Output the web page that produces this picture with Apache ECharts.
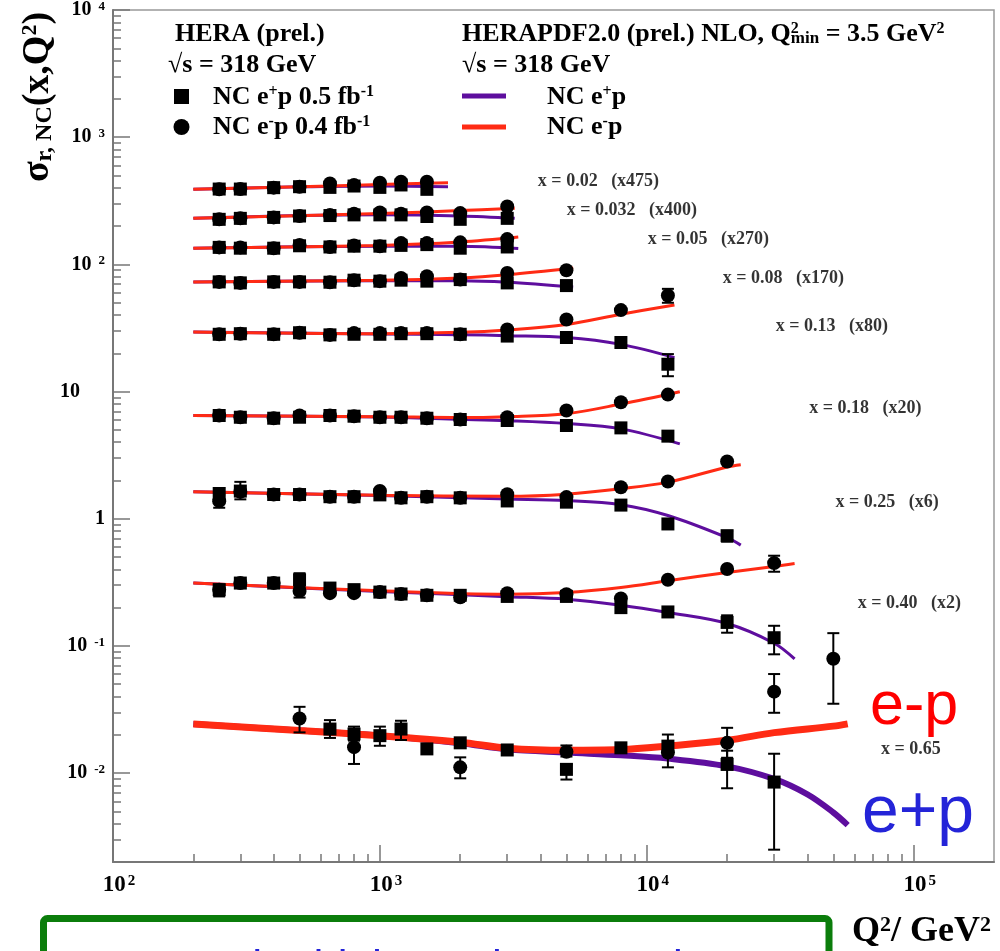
<!DOCTYPE html>
<html>
<head>
    <meta charset="utf-8">
    <title>HERA NC reduced cross sections at high Q2</title>
    <script type="text/javascript" src="https://cdn.jsdelivr.net/npm/echarts@6/dist/echarts.min.js"></script>
    <style>html, body { margin: 0; padding: 0; background: #fff; }</style>
</head>
<body>
    <div id="main" style="width:1000px; height:951px;"></div>
    <script type="text/javascript">

    var SERIF = '"Liberation Serif", "Times New Roman", serif';
    var SANS = '"Liberation Sans", Arial, sans-serif';
    var PURPLE = '#5e0e9e';
    var RED = '#ff2b14';

    // bins (label text + where the label sits, in Q2 / sigma units)
    var binNames = ['x = 0.02   (x475)', 'x = 0.032   (x400)', 'x = 0.05   (x270)', 'x = 0.08   (x170)',
        'x = 0.13   (x80)', 'x = 0.18   (x20)', 'x = 0.25   (x6)', 'x = 0.40   (x2)', 'x = 0.65'];
    var binTags = [[3908, 450], [5012, 266], [10090, 158], [19260, 77.3], [30400, 32.8],
        [40600, 7.39], [51000, 1.342], [61700, 0.215], [75500, 0.0155]];

    // NC e+p data (squares): [Q2, sigma] or [Q2, sigma, low, high] when the error bar shows
    var ePlusPts = [
        [250, 391], [300, 391], [400, 401], [500, 408], [650, 403], [800, 413], [1000, 403], [1200, 421], [1500, 389],
        [250, 226], [300, 230], [400, 234], [500, 240], [650, 242], [800, 245], [1000, 245], [1200, 245], [1500, 238], [2000, 226], [3000, 230],
        [250, 136], [300, 134], [400, 134], [500, 140], [650, 137], [800, 139], [1000, 139], [1200, 141], [1500, 143], [2000, 134], [3000, 137],
        [250, 72.8], [300, 71.5], [400, 72.8], [500, 72.8], [650, 72.4], [800, 75.1], [1000, 73.8], [1200, 75.1], [1500, 73.8], [2000, 75.9], [3000, 71.5], [5000, 68.1],
        [250, 28.2], [300, 28.5], [400, 28.2], [500, 29.0], [650, 27.9], [800, 28.2], [1000, 28.2], [1200, 28.5], [1500, 28.5], [2000, 28.2], [3000, 27.3], [5000, 26.6], [8000, 24.3], [12000, 16.4, 13.2, 19.7],
        [250, 6.48], [300, 6.28], [400, 6.17], [500, 6.28], [650, 6.48], [800, 6.40], [1000, 6.28], [1200, 6.28], [1500, 6.17], [2000, 6.03], [3000, 5.92], [5000, 5.41], [8000, 5.18], [12000, 4.46],
        [250, 1.58], [300, 1.65, 1.42, 1.95], [400, 1.55], [500, 1.55], [650, 1.49], [800, 1.49], [1000, 1.54], [1200, 1.46], [1500, 1.49], [2000, 1.46], [3000, 1.38], [5000, 1.35], [8000, 1.28], [12000, 0.91], [20000, 0.736, 0.66, 0.80],
        [250, 0.277, 0.245, 0.303], [300, 0.312], [400, 0.312], [500, 0.331, 0.29, 0.373], [650, 0.285], [800, 0.277], [1000, 0.265], [1200, 0.256], [1500, 0.250], [2000, 0.250], [3000, 0.245], [5000, 0.245], [8000, 0.200], [12000, 0.185], [20000, 0.153, 0.127, 0.174], [30000, 0.116, 0.0859, 0.144],
        [650, 0.0222, 0.0189, 0.0261], [800, 0.0203, 0.0180, 0.0232], [1000, 0.0197, 0.0164, 0.0232], [1200, 0.0222, 0.0182, 0.0258], [1500, 0.0155], [2000, 0.0173], [3000, 0.0152], [5000, 0.0107, 0.0089, 0.0117], [8000, 0.0158], [12000, 0.0163, 0.0111, 0.0201], [20000, 0.0117, 0.0076, 0.0150], [30000, 0.0085, 0.0025, 0.0142]
    ];

    // NC e-p data (circles)
    var eMinusPts = [
        [250, 389], [300, 391], [400, 401], [500, 408], [650, 433], [800, 420], [1000, 439], [1200, 447], [1500, 447],
        [250, 226], [300, 230], [400, 234], [500, 240], [650, 244], [800, 250], [1000, 256], [1200, 250], [1500, 256], [2000, 253], [3000, 285],
        [250, 136], [300, 136], [400, 134], [500, 142], [650, 137], [800, 141], [1000, 139], [1200, 147], [1500, 147], [2000, 149], [3000, 158],
        [250, 72.8], [300, 71.5], [400, 72.8], [500, 72.8], [650, 72.4], [800, 75.1], [1000, 73.8], [1200, 78.3], [1500, 80.8], [2000, 75.9], [3000, 85.7], [5000, 89.9],
        [250, 28.2], [300, 28.5], [400, 28.2], [500, 29.0], [650, 27.9], [800, 28.8], [1000, 28.8], [1200, 28.8], [1500, 28.8], [2000, 28.2], [3000, 30.8], [5000, 36.9], [8000, 43.7], [12000, 56.9, 49.9, 64.2],
        [250, 6.48], [300, 6.28], [400, 6.17], [500, 6.48], [650, 6.48], [800, 6.40], [1000, 6.28], [1200, 6.28], [1500, 6.17], [2000, 6.03], [3000, 6.28], [5000, 7.10], [8000, 8.23], [12000, 9.46],
        [250, 1.375, 1.22, 1.55], [300, 1.63], [400, 1.55], [500, 1.55], [650, 1.49], [800, 1.49], [1000, 1.65], [1200, 1.46], [1500, 1.49], [2000, 1.46], [3000, 1.56], [5000, 1.48], [8000, 1.77], [12000, 1.96], [20000, 2.82],
        [250, 0.277], [300, 0.312], [400, 0.312], [500, 0.27, 0.24, 0.30], [650, 0.260], [800, 0.260], [1000, 0.265], [1200, 0.256], [1500, 0.250], [2000, 0.241], [3000, 0.260], [5000, 0.255], [8000, 0.236], [12000, 0.331], [20000, 0.402], [30000, 0.448, 0.383, 0.512],
        [500, 0.0269, 0.0209, 0.0332], [800, 0.0160, 0.0118, 0.0190], [2000, 0.0111, 0.0091, 0.0133], [5000, 0.0147, 0.0135, 0.0165], [12000, 0.0145], [20000, 0.0173, 0.0132, 0.0227], [30000, 0.0437, 0.0298, 0.0601], [50000, 0.0793, 0.0351, 0.126]
    ];

    // HERAPDF2.0 NLO curves, one list per bin
    var fitPlus = [
        [[200, 389], [500, 407], [1000, 414], [1800, 408]],
        [[200, 230], [1000, 245], [2000, 240], [3200, 230]],
        [[200, 134], [1000, 139], [2000, 139], [3300, 133]],
        [[200, 72.8], [1000, 74.5], [2000, 74.5], [3000, 72.5], [5300, 66.5]],
        [[200, 29.4], [1000, 28.3], [2000, 28.0], [3000, 27.5], [5000, 26.6], [8000, 23.5], [12700, 18.5]],
        [[200, 6.48], [1000, 6.3], [2000, 6.05], [3000, 5.9], [5000, 5.6], [8000, 5.09], [13300, 3.88]],
        [[200, 1.63], [1000, 1.52], [3000, 1.43], [5000, 1.39], [8000, 1.29], [12000, 1.06], [20000, 0.71], [22500, 0.62]],
        [[200, 0.312], [1000, 0.268], [3000, 0.244], [5000, 0.233], [8000, 0.209], [12000, 0.183], [20000, 0.150], [30000, 0.105], [35800, 0.079]],
        [[200, 0.0243], [500, 0.0216], [1000, 0.0197], [2000, 0.0172], [3000, 0.0154], [5000, 0.0145], [8000, 0.0138], [12000, 0.0130], [20000, 0.0113], [30000, 0.0090], [40000, 0.0068], [50000, 0.0049], [56600, 0.0039]]
    ];
    var fitMinus = [
        [[200, 389], [500, 408], [1000, 424], [1800, 439]],
        [[200, 230], [1000, 251], [2000, 265], [3200, 276]],
        [[200, 134], [1000, 141], [2000, 150], [3300, 164]],
        [[200, 72.8], [1000, 75.1], [2000, 78.3], [3000, 83.0], [5300, 93.7]],
        [[200, 29.4], [1000, 28.5], [2000, 29.2], [3000, 30.5], [5000, 33.7], [8000, 40.5], [12700, 48.0]],
        [[200, 6.48], [1000, 6.35], [2000, 6.25], [3000, 6.35], [5000, 6.7], [8000, 7.98], [13300, 9.98]],
        [[200, 1.63], [1000, 1.53], [3000, 1.50], [5000, 1.56], [8000, 1.72], [12000, 1.94], [20000, 2.55], [22500, 2.66]],
        [[200, 0.312], [1000, 0.271], [3000, 0.255], [5000, 0.263], [8000, 0.288], [12000, 0.325], [20000, 0.378], [30000, 0.422], [35800, 0.445]],
        [[200, 0.0243], [500, 0.0216], [1000, 0.0197], [2000, 0.0175], [3000, 0.0157], [5000, 0.0151], [8000, 0.0153], [12000, 0.0163], [20000, 0.0181], [30000, 0.0208], [50000, 0.0234], [56600, 0.0244]]
    ];

    // axis ticks
    var xMajor = [100, 1000, 10000, 100000];
    var xMinor = [200, 300, 400, 500, 600, 700, 800, 900, 2000, 3000, 4000, 5000, 6000, 7000, 8000, 9000,
        20000, 30000, 40000, 50000, 60000, 70000, 80000, 90000];
    var yMajor = [0.01, 0.1, 1, 10, 100, 1000, 10000];
    var yMinor = [];
    [0.001, 0.01, 0.1, 1, 10, 100, 1000].forEach(function (d) {
        for (var k = 2; k < 10; k++) {
            var v = +(d * k).toPrecision(3);
            if (v > 0.0021) yMinor.push(v);
        }
    });

    var errPts = ePlusPts.concat(eMinusPts).filter(function (p) { return p.length === 4; });

    var chart = echarts.init(document.getElementById('main'));

    var series = [];
    for (var i = 0; i < binNames.length; i++) {
        var last = i === binNames.length - 1;
        series.push({
            type: 'line', data: fitPlus[i], smooth: 0.35, showSymbol: false, symbol: 'none',
            lineStyle: { color: PURPLE, width: last ? 6 : 3 }, z: 2, silent: true
        });
        series.push({
            type: 'line', data: fitMinus[i], smooth: 0.35, showSymbol: false, symbol: 'none',
            lineStyle: { color: RED, width: last ? 7 : 3 }, z: 3, silent: true
        });
    }

    // error bars
    series.push({
        type: 'custom', data: errPts, z: 4, silent: true,
        renderItem: function (params, api) {
            var x = api.value(0);
            var top = api.coord([x, api.value(3)]);
            var bot = api.coord([x, api.value(2)]);
            var w = 6, st = { stroke: '#000', lineWidth: 2 };
            return {
                type: 'group', children: [
                    { type: 'line', shape: { x1: top[0], y1: top[1], x2: bot[0], y2: bot[1] }, style: st },
                    { type: 'line', shape: { x1: top[0] - w, y1: top[1], x2: top[0] + w, y2: top[1] }, style: st },
                    { type: 'line', shape: { x1: bot[0] - w, y1: bot[1], x2: bot[0] + w, y2: bot[1] }, style: st }
                ]
            };
        }
    });
    series.push({
        type: 'scatter', data: ePlusPts, symbol: 'rect', symbolSize: 13,
        itemStyle: { color: '#000', opacity: 1 }, z: 5, silent: true
    });
    series.push({
        type: 'scatter', data: eMinusPts, symbol: 'circle', symbolSize: 14,
        itemStyle: { color: '#000', opacity: 1 }, z: 5, silent: true
    });
    // bin labels
    series.push({
        type: 'scatter', data: binTags, symbolSize: 0, z: 6, silent: true,
        label: {
            show: true, position: 'right', distance: 0, color: '#000',
            fontFamily: SERIF, fontWeight: 'bold', fontSize: 18,
            formatter: function (p) { return binNames[p.dataIndex]; }
        }
    });

    var supStyle = { fontFamily: SERIF, fontWeight: 'bold', fontSize: 16, verticalAlign: 'top', fill: '#000' };
    var txt = { fontFamily: SERIF, fontWeight: 'bold', fontSize: 26, fill: '#000', align: 'left', verticalAlign: 'middle' };
    function T(x, y, text, extra) {
        var style = Object.assign({}, txt, { text: text, rich: { sup: supStyle } }, extra || {});
        return { type: 'text', x: x, y: y, style: style, z: 10 };
    }

    option = {
        animation: false,
        backgroundColor: '#fff',
        grid: { left: 113, right: 6, top: 6, bottom: 89, show: true, borderColor: '#999', borderWidth: 1.5 },
        xAxis: [{
            type: 'log', logBase: 10, min: 100, max: 200000,
            axisLine: { lineStyle: { color: '#777', width: 2 } },
            axisTick: { inside: true, length: 17, customValues: xMajor, lineStyle: { color: '#777', width: 1.5 } },
            axisLabel: {
                customValues: xMajor, margin: 12, color: '#000',
                formatter: function (v) {
                    return '{sp|}{b|10}{s|' + Math.round(Math.log10(v)) + '}';
                },
                rich: {
                    sp: { width: 12 },
                    b: { fontFamily: SERIF, fontWeight: 'bold', fontSize: 23, color: '#000' },
                    s: { fontFamily: SERIF, fontWeight: 'bold', fontSize: 15, color: '#000', verticalAlign: 'top', padding: [0, 0, 0, 2] }
                }
            },
            splitLine: { show: false }
        }, {
            type: 'log', logBase: 10, min: 100, max: 200000, position: 'bottom',
            axisLine: { show: false },
            axisTick: { inside: true, length: 8, customValues: xMinor, lineStyle: { color: '#777', width: 1.5 } },
            axisLabel: { show: false },
            splitLine: { show: false }
        }],
        yAxis: [{
            type: 'log', logBase: 10, min: 0.002, max: 10000,
            axisLine: { lineStyle: { color: '#777', width: 2 } },
            axisTick: { inside: true, length: 17, customValues: yMajor, lineStyle: { color: '#777', width: 1.5 } },
            axisLabel: {
                customValues: yMajor, margin: 8, color: '#000',
                formatter: function (v) {
                    var e = Math.round(Math.log10(v));
                    if (e === 0) return '{b|1}';
                    if (e === 1) return '{b|10}{gap|}';
                    return '{b|10}{s|' + e + '}';
                },
                rich: {
                    gap: { width: 25 },
                    b: { fontFamily: SERIF, fontWeight: 'bold', fontSize: 20, color: '#000' },
                    s: { fontFamily: SERIF, fontWeight: 'bold', fontSize: 13, color: '#000', verticalAlign: 'top', padding: [0, 0, 0, 7] }
                }
            },
            splitLine: { show: false }
        }, {
            type: 'log', logBase: 10, min: 0.002, max: 10000, position: 'left',
            axisLine: { show: false },
            axisTick: { inside: true, length: 8, customValues: yMinor, lineStyle: { color: '#777', width: 1.5 } },
            axisLabel: { show: false },
            splitLine: { show: false }
        }],
        graphic: [
            // left legend block
            T(175, 34, 'HERA (prel.)'),
            T(168, 65, '√s = 318 GeV'),
            { type: 'rect', shape: { x: 174, y: 89, width: 15, height: 15 }, style: { fill: '#000' }, z: 10 },
            T(213, 97, 'NC e{sup|+}p 0.5 fb{sup|-1}'),
            { type: 'circle', shape: { cx: 181.5, cy: 127, r: 8 }, style: { fill: '#000' }, z: 10 },
            T(213, 127, 'NC e{sup|-}p 0.4 fb{sup|-1}'),
            // right legend block
            T(462, 34, 'HERAPDF2.0 (prel.) NLO, Q{sup0|2}{sub|min} = 3.5 GeV{sup|2}', {
                rich: {
                    sup: supStyle,
                    sup0: Object.assign({}, supStyle, { width: 0 }),
                    sub: { fontFamily: SERIF, fontWeight: 'bold', fontSize: 17, verticalAlign: 'bottom', fill: '#000' }
                }
            }),
            T(462, 65, '√s = 318 GeV'),
            { type: 'rect', shape: { x: 462, y: 93.5, width: 44, height: 5 }, style: { fill: PURPLE }, z: 10 },
            T(547, 97, 'NC e{sup|+}p'),
            { type: 'rect', shape: { x: 462, y: 124.5, width: 44, height: 5 }, style: { fill: RED }, z: 10 },
            T(547, 127, 'NC e{sup|-}p'),
            // axis titles
            {
                type: 'text', x: 38, y: 97, rotation: Math.PI / 2, z: 10,
                style: {
                    text: '{m|σ}{s|r, NC}{m|(x,Q}{p|2}{m|)}', align: 'center', verticalAlign: 'middle', fill: '#000',
                    rich: {
                        m: { fontFamily: SERIF, fontWeight: 'bold', fontSize: 38, fill: '#000' },
                        s: { fontFamily: SERIF, fontWeight: 'bold', fontSize: 24, fill: '#000', verticalAlign: 'bottom' },
                        p: { fontFamily: SERIF, fontWeight: 'bold', fontSize: 22, fill: '#000', verticalAlign: 'top' }
                    }
                }
            },
            T(852, 932, 'Q{sup|2}/ GeV{sup|2}', {
                fontSize: 36,
                rich: { sup: Object.assign({}, supStyle, { fontSize: 22 }) }
            }),
            // e-p / e+p annotations
            { type: 'text', x: 870, y: 738, z: 10, style: { text: 'e-p', fontFamily: SANS, fontSize: 61, fill: '#ff0000', align: 'left', verticalAlign: 'bottom' } },
            { type: 'text', x: 862, y: 847, z: 10, style: { text: 'e+p', fontFamily: SANS, fontSize: 66, fill: '#2424d8', align: 'left', verticalAlign: 'bottom' } },
            // green box at the bottom
            { type: 'rect', shape: { x: 43.5, y: 918.5, width: 785.5, height: 80, r: 4 }, style: { fill: 'none', stroke: '#0b7d0b', lineWidth: 7 }, z: 10 },
            { type: 'text', x: 240, y: 947, z: 9, style: { text: 'the high-x valence region', fontFamily: SANS, fontSize: 44, fill: '#2424d8', align: 'left', verticalAlign: 'top' } }
        ],
        series: series
    };

    chart.setOption(option);
    </script>
</body>
</html>
